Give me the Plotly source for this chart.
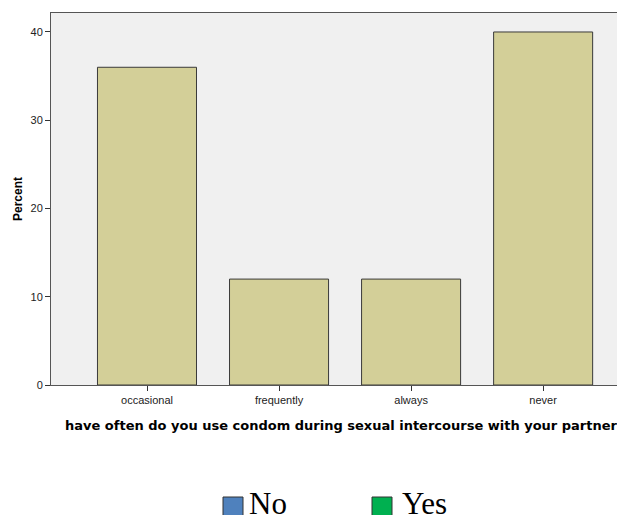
import plotly.graph_objects as go

categories = ["occasional", "frequently", "always", "never"]
percent = [36, 12, 12, 40]
legend_labels = ["No", "Yes"]
legend_colors = ["#4F81BD", "#00B050"]
x_title = "have often do you use condom during sexual intercourse with your partner"

OFF = 8  # page body margin
W, H = 625 - OFF, 515 - OFF
ml, mr, mt, mb = 51 - OFF, 0, 13 - OFF, (515 - OFF) - (385 - OFF)
pw, ph = W - ml - mr, H - mt - mb

def px(x):
    return (x - OFF - ml) / pw

def py(y):
    return (mt + ph - (y - OFF)) / ph

fig = go.Figure()
fig.add_trace(go.Bar(
    x=categories, y=percent, width=0.75,
    marker=dict(color="#D3CF98", line=dict(color="#3A3A3A", width=1)),
    showlegend=False,
))

fig.update_layout(
    width=W, height=H,
    margin=dict(l=ml, r=mr, t=mt, b=mb, pad=0),
    paper_bgcolor="white", plot_bgcolor="#F0F0F0",
    showlegend=False,
    font=dict(family="Arial, Liberation Sans", color="#000000"),
)
fig.update_xaxes(
    range=[-0.727, 3.62], showgrid=False, zeroline=False,
    showline=True, linecolor="#555555", linewidth=1, mirror=True,
    ticks="outside", ticklen=5, tickcolor="#333333",
    tickfont=dict(size=11, family="Arial, Liberation Sans", color="#222"),
)
fig.update_yaxes(
    range=[0, 42.15], showgrid=False, zeroline=False,
    showline=True, linecolor="#555555", linewidth=1, mirror=True,
    ticks="outside", ticklen=5, tickcolor="#333333",
    tickvals=[0, 10, 20, 30, 40],
    tickfont=dict(size=11, family="Arial, Liberation Sans", color="#222"),
    title=dict(text="Percent", font=dict(family="Arial, Liberation Sans", size=12, weight="bold", color="#000"), standoff=5),
)

fig.add_annotation(xref="paper", yref="paper", x=px(341), y=py(426),
                   xanchor="center", yanchor="middle", showarrow=False,
                   text=x_title,
                   font=dict(family="DejaVu Sans", size=13, weight="bold", color="#000"))

sq_x = [223, 372]
txt_x = [247, 400]
for i, lab in enumerate(legend_labels):
    fig.add_shape(type="rect", xref="paper", yref="paper",
                  x0=px(sq_x[i]), x1=px(sq_x[i] + 20), y0=py(497), y1=py(519),
                  fillcolor=legend_colors[i], line=dict(color="#333", width=1))
    fig.add_annotation(xref="paper", yref="paper", x=px(txt_x[i]), y=py(503),
                       xanchor="left", yanchor="middle", showarrow=False,
                       text=lab, font=dict(family="Liberation Serif, Times New Roman", size=31, color="#000"))

fig.write_html("out.html")
